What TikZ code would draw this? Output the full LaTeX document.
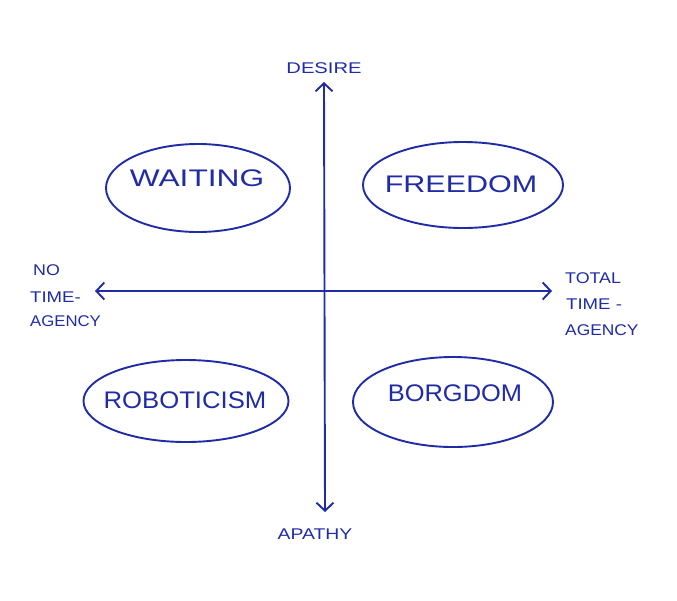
\documentclass[tikz,border=0pt]{standalone}
\usepackage{fontspec}
\setmainfont{Liberation Sans}
\usetikzlibrary{arrows.meta,shapes.geometric}
\definecolor{ink}{HTML}{1F2CA6}
\begin{document}
\begin{tikzpicture}[x=1pt,y=-1pt,
  ink line/.style={draw=ink,line width=1.9pt,line cap=round},
  axisarrow/.style={ink line,{Straight Barb[length=8pt,width=17pt,line width=1.9pt]}-{Straight Barb[length=8pt,width=17pt,line width=1.9pt]}},
  blob/.style={ellipse,draw=ink,line width=1.9pt,inner sep=0pt},
  word/.style={text=ink,font=\fontsize{24}{24}\selectfont,inner sep=0pt},
  axislabel/.style={text=ink,font=\fontsize{15.5}{17}\selectfont,inner sep=0pt,align=left}]
\useasboundingbox (0,0) rectangle (677,600);
\fill[white] (0,0) rectangle (677,600);
% axes
\coordinate (top) at (324,82);
\coordinate (bottom) at (325,512);
\coordinate (left) at (95,291);
\coordinate (right) at (552,291);
\draw[axisarrow] (bottom) -- (top);
\draw[axisarrow] (left) -- (right);
% axis labels
\node[axislabel] (desire) at (324,68) {\scalebox{1.3}[1]{DESIRE}};
\node[axislabel] (apathy) at (315,534) {\scalebox{1.25}[1]{APATHY}};
\node[axislabel,anchor=west] (no) at (33,270) {\scalebox{1.15}[1]{NO}};
\node[axislabel,anchor=west] (time1) at (30,297) {\scalebox{1.2}[1]{TIME-}};
\node[axislabel,anchor=west] (agency1) at (30,321) {\scalebox{1.08}[1]{AGENCY}};
\node[axislabel,anchor=west] (total) at (565,278) {\scalebox{1.15}[1]{TOTAL}};
\node[axislabel,anchor=west] (time2) at (566,304) {\scalebox{1.2}[1]{TIME -}};
\node[axislabel,anchor=west] (agency2) at (565,330) {\scalebox{1.12}[1]{AGENCY}};
% quadrants
\node[blob,minimum width=184pt,minimum height=88pt] (waitE) at (198,188) {};
\node[word] (wait) at (197,178) {\scalebox{1.32}[1]{WAITING}};
\node[blob,minimum width=200pt,minimum height=86pt] (freeE) at (463,185) {};
\node[word] (free) at (461,184) {\scalebox{1.27}[1]{FREEDOM}};
\node[blob,minimum width=205pt,minimum height=82pt] (roboE) at (186,401) {};
\node[word] (robo) at (185,400) {\scalebox{1.07}[1]{ROBOTICISM}};
\node[blob,minimum width=200pt,minimum height=90pt] (borgE) at (453,402) {};
\node[word] (borg) at (455,393) {\scalebox{1.06}[1]{BORGDOM}};
\end{tikzpicture}
\end{document}
